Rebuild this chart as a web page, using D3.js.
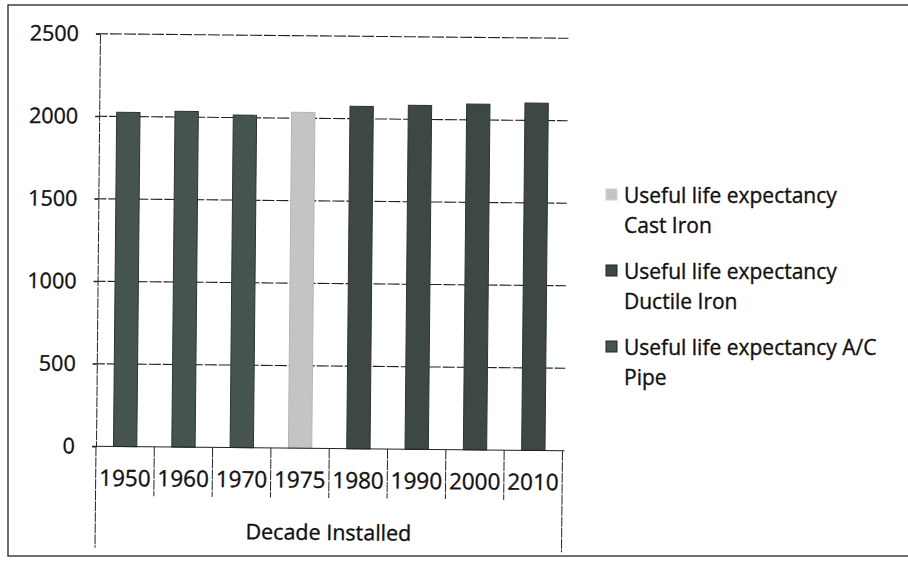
<!DOCTYPE html>
<html>
<head>
<meta charset="utf-8">
<script src="https://cdn.jsdelivr.net/npm/d3@7"></script>
<style>
  html, body { margin: 0; padding: 0; background: #fff; }
  svg text { font-family: "Open Sans", sans-serif; fill: #111; stroke: #111; stroke-width: 0.35px; }
</style>
</head>
<body>
<svg id="chart" width="908" height="561"></svg>
<script>
const decades = ['1950', '1960', '1970', '1975', '1980', '1990', '2000', '2010'];
const castIron = [0, 0, 0, 2035, 0, 0, 0, 0];
const ductileIron = [0, 0, 0, 0, 2075, 2085, 2095, 2105];
const acPipe = [2025, 2035, 2015, 0, 0, 0, 0, 0];
const seriesNames = ['Useful life expectancy Cast Iron', 'Useful life expectancy Ductile Iron', 'Useful life expectancy A/C Pipe'];
const yTicks = [0, 500, 1000, 1500, 2000, 2500];
const axisTitle = 'Decade Installed';

const colors = ['#c3c5c4', '#3d4843', '#46544e'];
const keys = ['cast', 'ductile', 'ac'];

const rows = decades.map((d, i) => ({ decade: d, cast: castIron[i], ductile: ductileIron[i], ac: acPipe[i] }));
const stacked = d3.stack().keys(keys)(rows);

const svg = d3.select('#chart');

// outer chart border (scan edge)
svg.append('rect')
  .attr('x', 8).attr('y', 5).attr('width', 920).attr('height', 551)
  .attr('fill', 'none').attr('stroke', '#222').attr('stroke-width', 1.3);

const plot = { left: 97.5, right: 564, top: 36, bottom: 448.5 };

const x = d3.scaleBand().domain(decades).range([plot.left, plot.right]).paddingInner(0).paddingOuter(0);
const y = d3.scaleLinear().domain([0, 2500]).range([plot.bottom, plot.top]);

// the scan is slightly tilted
const g = svg.append('g').attr('transform', 'rotate(0.55, 330, 290)');

// gridlines
g.append('g').selectAll('line').data(yTicks.filter(t => t > 0)).join('line')
  .attr('x1', plot.left - 4).attr('x2', plot.right + 2)
  .attr('y1', d => y(d)).attr('y2', d => y(d))
  .attr('stroke', '#222').attr('stroke-width', 1.1).attr('stroke-dasharray', '12,2');

// bars
const barW = x.bandwidth() / 2.5;
g.append('g').selectAll('g').data(stacked).join('g')
  .attr('fill', (d, i) => colors[i])
  .attr('stroke', (d, i) => i === 0 ? '#b4b6b5' : '#2c3531')
  .selectAll('rect').data(d => d.filter(s => s[1] - s[0] > 0)).join('rect')
  .attr('x', d => x(d.data.decade) + (x.bandwidth() - barW) / 2)
  .attr('width', barW)
  .attr('y', d => y(d[1]))
  .attr('height', d => y(d[0]) - y(d[1]));

// y axis
const yAxis = d3.axisLeft(y).tickValues(yTicks).tickSize(4).tickPadding(17).tickFormat(d3.format('d'));
const ya = g.append('g').attr('transform', `translate(${plot.left},0)`).call(yAxis);
ya.select('.domain').attr('stroke', '#222').attr('stroke-dasharray', '10,1');
ya.selectAll('.tick line').attr('stroke', '#222');
ya.selectAll('.tick text').attr('font-size', 21.5).attr('font-family', '"Open Sans", sans-serif');

// x axis baseline
g.append('line')
  .attr('x1', plot.left - 4).attr('x2', plot.right + 2)
  .attr('y1', y(0)).attr('y2', y(0))
  .attr('stroke', '#222').attr('stroke-width', 1.1);

// category separators (multi-level axis)
const bounds = decades.map(d => x(d)).concat([plot.right]);
g.append('g').selectAll('line').data(bounds).join('line')
  .attr('x1', d => d).attr('x2', d => d)
  .attr('y1', y(0))
  .attr('y2', (d, i) => (i === 0 || i === bounds.length - 1) ? 550 : 498)
  .attr('stroke', '#222').attr('stroke-width', 1).attr('stroke-dasharray', '10,1');

g.append('g').selectAll('text').data(decades).join('text')
  .attr('x', d => x(d) + x.bandwidth() / 2)
  .attr('y', 488)
  .attr('text-anchor', 'middle')
  .attr('font-size', 22.5)
  .text(d => d);

g.append('text')
  .attr('x', (plot.left + plot.right) / 2)
  .attr('y', 540)
  .attr('text-anchor', 'middle')
  .attr('font-size', 21.5)
  .text(axisTitle);

// legend
const legendLines = [['Useful life expectancy', 'Cast Iron'], ['Useful life expectancy', 'Ductile Iron'], ['Useful life expectancy A/C', 'Pipe']];
const leg = svg.append('g').attr('transform', 'translate(606, 189)');
const item = leg.selectAll('g').data(seriesNames).join('g')
  .attr('transform', (d, i) => `translate(0,${i * 76})`);
item.append('rect')
  .attr('x', 0).attr('y', 0).attr('width', 11).attr('height', 11)
  .attr('fill', (d, i) => colors[i])
  .attr('stroke', (d, i) => i === 0 ? '#d0d2d1' : '#1f2623');
item.append('text')
  .attr('x', 18).attr('y', 14)
  .attr('font-size', 21)
  .selectAll('tspan').data((d, i) => legendLines[i]).join('tspan')
  .attr('x', 18)
  .attr('dy', (d, j) => j === 0 ? 0 : 30)
  .text(d => d);
</script>
</body>
</html>
